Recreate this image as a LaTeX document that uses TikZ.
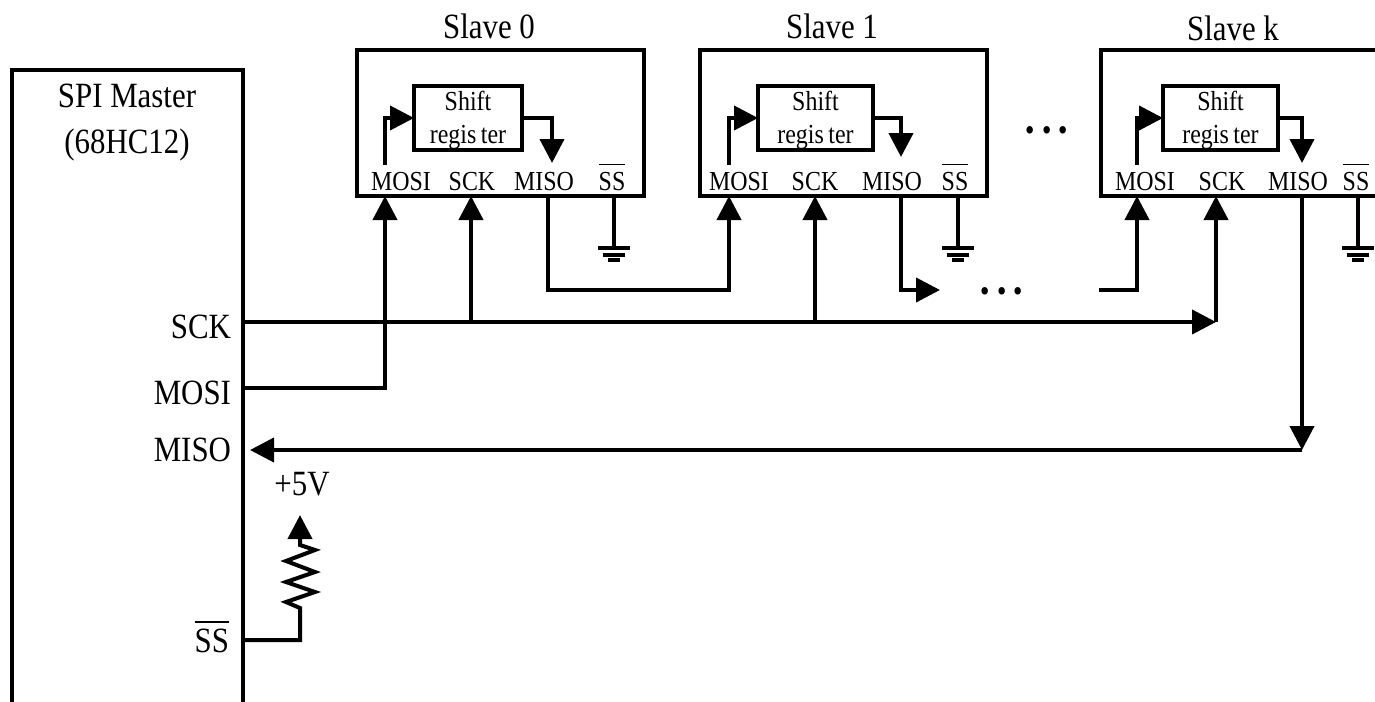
\documentclass[tikz,border=0pt]{standalone}
\usepackage{fontspec}
\setmainfont[FakeStretch=0.87]{Liberation Serif}
\usepackage{xcolor}
\usetikzlibrary{arrows.meta, positioning, calc}
\newcommand{\bigfont}{\fontsize{35.5}{40}\selectfont}
\newcommand{\smallfont}{\fontsize{27.5}{31}\selectfont}
\newcommand{\dotsfont}{\fontsize{46}{46}\selectfont\bfseries}
\newcommand{\barSS}[1][0.92em]{\makebox[0pt][l]{\rule[#1]{0.97em}{0.05em}}SS}
\newcommand{\regtext}{\rule{0pt}{24pt}Shift\\[2pt]regis\,ter}
\newcommand{\dotstext}{·\hspace{3pt}·\hspace{3pt}·}

\begin{document}
\begin{tikzpicture}[
    x=1pt, y=-1pt,
    line width=4pt,
    >={Triangle[length=24pt, width=24pt]},
    box/.style={draw=black, inner sep=0pt, outer sep=0pt, anchor=north west},
    slave/.style={box, minimum width=287pt, minimum height=146pt},
    shiftreg/.style={box, minimum height=64pt, font=\smallfont, align=center},
    port/.style={inner sep=0pt, font=\smallfont},
    title/.style={inner sep=0pt, font=\bigfont},
    pin/.style={inner sep=0pt, anchor=east, font=\bigfont},
    dotrow/.style={inner sep=0pt, font=\dotsfont},
    wire/.style={draw=black, line join=miter}
]
\path[use as bounding box, clip] (0,0) rectangle (1375,701);

% master
\node[box, minimum width=231pt, minimum height=700pt] (master) at (12,70) {};
\node[title] (mastername) at (127,96) {SPI Master};
\node[title] (masterchip) at (127,145) {(68HC12)};
\node[pin] (pinsck) at (233,327) {SCK};
\node[pin] (pinmosi) at (233,393) {MOSI};
\node[pin] (pinmiso) at (233,450) {MISO};
\node[pin] (pinss) at (231,637) {\barSS[0.85em]};
\node[title] (plusfive) at (302,484) {+5V};

% slave 0
\node[title] (title0) at (489,26) {Slave 0};
\node[slave] (slave0) at (357,50) {};
\node[shiftreg, minimum width=108pt] (reg0) at (414,86) {\regtext};
\node[port] (mosi0) at (401,182) {MOSI};
\node[port] (sck0) at (472,182) {SCK};
\node[port] (miso0) at (544,182) {MISO};
\node[port] (ss0) at (612,177) {\barSS};

% slave 1
\node[title] (title1) at (832,26) {Slave 1};
\node[slave] (slave1) at (700,50) {};
\node[shiftreg, minimum width=115pt] (reg1) at (758,86) {\regtext};
\node[port] (mosi1) at (739,182) {MOSI};
\node[port] (sck1) at (815,182) {SCK};
\node[port] (miso1) at (892,182) {MISO};
\node[port] (ss1) at (955,177) {\barSS};

% slave k
\node[title] (titlek) at (1233,28) {Slave k};
\node[slave, minimum width=300pt] (slavek) at (1101,50) {};
\node[shiftreg, minimum width=115pt] (regk) at (1163,86) {\regtext};
\node[port] (mosik) at (1145,182) {MOSI};
\node[port] (sckk) at (1222,182) {SCK};
\node[port] (misok) at (1298,182) {MISO};
\node[port] (ssk) at (1356,177) {\barSS};

\node[dotrow] (dotstop) at (1047,136) {\dotstext};
\node[dotrow] (dotsbottom) at (1002,297) {\dotstext};

% ports on the slave boxes
\coordinate (in0) at (385,196);
\coordinate (clk0) at (471,196);
\coordinate (out0) at (548,196);
\coordinate (gnd0) at (614,196);
\coordinate (in1) at (729,196);
\coordinate (clk1) at (815,196);
\coordinate (out1) at (901,196);
\coordinate (gnd1) at (958,196);
\coordinate (ink) at (1137,196);
\coordinate (clkk) at (1216,196);
\coordinate (outk) at (1302,196);
\coordinate (gndk) at (1358,196);

% inside the slaves
\draw[wire, ->] (385,165) |- (reg0.west);
\draw[wire, ->] (reg0.east) -| (552,163);
\draw[wire, ->] (729,165) |- (reg1.west);
\draw[wire, ->] (reg1.east) -| (901,157);
\draw[wire, ->] (1137,165) |- (regk.west);
\draw[wire, ->] (regk.east) -| (1302,163);

% clock and data lines
\coordinate (sckstart) at (243,322);
\coordinate (mosistart) at (243,388);
\coordinate (ssstart) at (243,640);
\coordinate (misoturn) at (1302,450);
\draw[wire, ->] (sckstart) -- (sckstart -| clkk);
\draw[wire, ->] (sckstart -| clkk) -- (clkk);
\draw[wire, ->] (sckstart -| clk0) -- (clk0);
\draw[wire, ->] (sckstart -| clk1) -- (clk1);
\draw[wire, ->] (mosistart) -| (in0);
\draw[wire, ->] (out0) |- (in1 |- 0,290) -- (in1);
\draw[wire, ->] (out1) |- (940,290);
\draw[wire, ->] (1099,290) -| (ink);
\draw[wire, ->] (outk) -- (misoturn);
\draw[wire, ->] (misoturn) -- (250,450);

% pull-up
\draw[wire, ->] (ssstart) -| (300,608) -- (286,602) -- (315,592) -- (286,582) -- (315,572)
    -- (286,561) -- (315,550) -- (300,545) -- (300,515);

% grounds
\foreach \g in {gnd0, gnd1, gndk} {
    \draw[wire] (\g) -- ++(0,52);
    \draw[wire] ($(\g)+(-16,52)$) -- ++(32,0);
    \draw[wire] ($(\g)+(-11,59)$) -- ++(22,0);
    \draw[wire] ($(\g)+(-6,64)$) -- ++(12,0);
}
\end{tikzpicture}
\end{document}
